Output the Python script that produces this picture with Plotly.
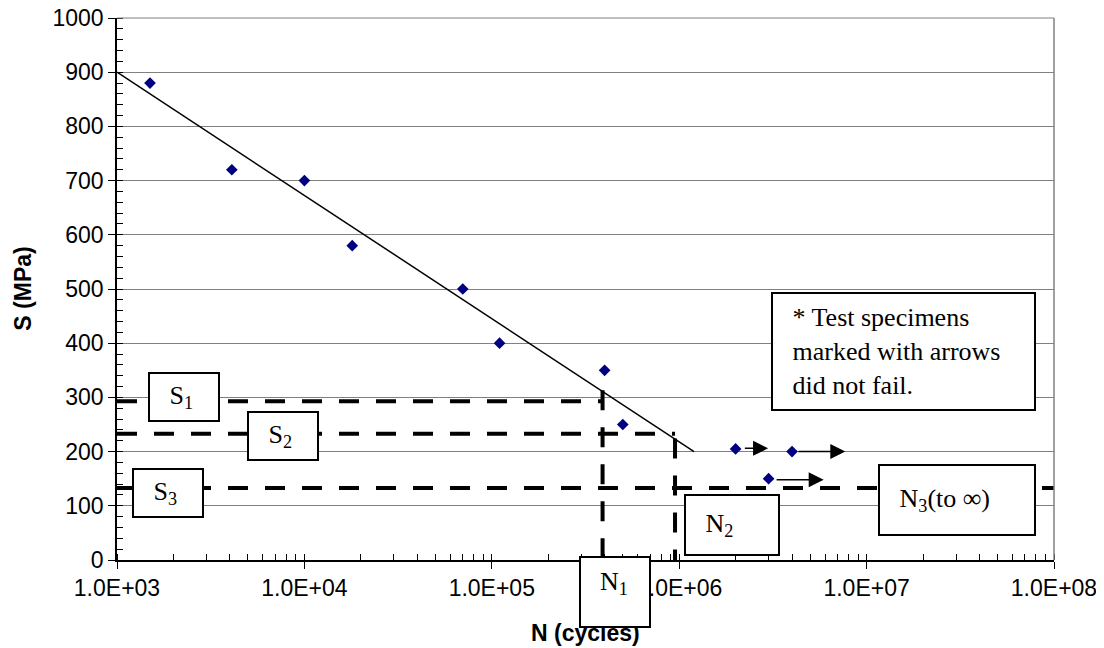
import numpy as np
import plotly.graph_objects as go

# ---- data ----
N_test = [1.5e3, 4.1e3, 1.0e4, 1.8e4, 7.0e4, 1.1e5, 4.0e5, 5.0e5, 2.0e6, 3.0e6, 4.0e6]
S_test = [880, 720, 700, 580, 500, 400, 350, 250, 205, 150, 200]

N_fit = [1.0e3, 1.2e6]
S_fit = [900, 200]

# run-outs (did not fail): start N, arrow tip N, stress
runout_tail = [2.2e6, 3.25e6, 4.25e6]
runout_head = [2.98e6, 5.9e6, 7.7e6]
runout_S = [206, 148, 200]

S_levels = [293, 233, 133]          # S1, S2, S3
N_levels = [3.9e5, 9.5e5]           # N1, N2
S_at_N = [313, 224]                 # S on fit line at N1, N2
N_min, N_max = 1.0e3, 1.0e8

xtick_vals = [1e3, 1e4, 1e5, 1e6, 1e7, 1e8]
xtick_text = ["1.0E+03", "1.0E+04", "1.0E+05", "1.0E+06", "1.0E+07", "1.0E+08"]

SANS = "Liberation Sans, Arial, sans-serif"
SERIF = "Liberation Serif, Times New Roman, serif"

fig = go.Figure()

dash = "20px,17px"
dl = dict(color="black", width=4, dash=dash)
# horizontal S1, S2 to N1, N2; S3 across
fig.add_trace(go.Scatter(x=[N_min, N_levels[0]], y=[S_levels[0]] * 2, mode="lines", line=dl, hoverinfo="skip"))
fig.add_trace(go.Scatter(x=[N_min, N_levels[1]], y=[S_levels[1]] * 2, mode="lines", line=dl, hoverinfo="skip"))
fig.add_trace(go.Scatter(x=[N_min, N_max], y=[S_levels[2]] * 2, mode="lines", line=dl, hoverinfo="skip"))
# vertical N1, N2
fig.add_trace(go.Scatter(x=[N_levels[0]] * 2, y=[S_at_N[0], 0], mode="lines", line=dl, hoverinfo="skip"))
fig.add_trace(go.Scatter(x=[N_levels[1]] * 2, y=[S_at_N[1], 0], mode="lines", line=dl, hoverinfo="skip"))

# fit line
fig.add_trace(go.Scatter(x=N_fit, y=S_fit, mode="lines", line=dict(color="black", width=1.5)))
# test points
fig.add_trace(go.Scatter(x=N_test, y=S_test, mode="markers",
                         marker=dict(symbol="diamond", size=9, color="#000080")))

annotations = []
# run-out arrows
for t, h, s in zip(runout_tail, runout_head, runout_S):
    annotations.append(dict(x=np.log10(h), y=s, ax=np.log10(t), ay=s, xref="x", yref="y",
                            axref="x", ayref="y", showarrow=True, arrowhead=2, arrowsize=2,
                            arrowwidth=1.5, arrowcolor="black", standoff=0, startstandoff=0, text=""))

pad = "&nbsp;&nbsp;&nbsp;"


def box(text, cx, cy, w, h, valign="middle", ref="data"):
    d = dict(text=text, x=cx, y=cy, xref="x", yref="y", showarrow=False,
             xanchor="center", yanchor="middle",
             width=w - 4, height=h - 4, align="left", valign=valign,
             bordercolor="black", borderwidth=2, borderpad=0, bgcolor="white",
             font=dict(family=SERIF, size=26, color="black"))
    if ref == "paper":
        d.update(xref="paper", yref="paper")
    return d


annotations.append(box(pad + "S<sub>1</sub>", 3.356, 300, 72, 50))
annotations.append(box(pad + "S<sub>2</sub>", 3.885, 229.7, 72, 50))
annotations.append(box(pad + "S<sub>3</sub>", 3.271, 124.5, 72, 50))
annotations.append(box(pad + "N<sub>2</sub>", 6.282, 65.5, 96, 62))
annotations.append(box(pad + "N<sub>3</sub>(to ∞)", 7.483, 111.6, 158, 72))
annotations.append(box(pad + "* Test specimens<br>" + pad + "marked with arrows<br>" + pad + "did not fail.",
                       7.197, 383.8, 265, 119))

# axis titles
annotations.append(dict(text="<b>S (MPa)</b>", x=-0.1007, y=0.5, xref="paper", yref="paper",
                        textangle=-90, showarrow=False, xanchor="center", yanchor="middle",
                        font=dict(family=SANS, size=23, color="black")))
annotations.append(dict(text="<b>N (cycles)</b>", x=0.5, y=-0.135, xref="paper", yref="paper",
                        showarrow=False, xanchor="center", yanchor="middle",
                        font=dict(family=SANS, size=23, color="black")))
# N1 box (below the axis) and its label
annotations.append(box("&nbsp;", 0.5313, -0.0582, 72, 72, ref="paper"))
annotations.append(dict(text="N<sub>1</sub>", x=0.5132, y=-0.043, xref="paper", yref="paper",
                        showarrow=False, xanchor="left", yanchor="middle",
                        font=dict(family=SERIF, size=26, color="black")))

fig.update_layout(
    template="none",
    width=1096, height=640,
    margin=dict(l=109, r=50, t=10, b=88, autoexpand=False),
    paper_bgcolor="white", plot_bgcolor="white",
    showlegend=False,
    annotations=annotations,
    shapes=[dict(type="line", xref="paper", yref="paper", x0=1, x1=1, y0=0, y1=1,
                 line=dict(color="#808080", width=1.5)),
            dict(type="line", xref="paper", yref="paper", x0=0, x1=1, y0=1, y1=1,
                 line=dict(color="#808080", width=1))],
)
fig.update_xaxes(type="log", range=[3, 8], showgrid=False, zeroline=False, automargin=False,
                 showline=True, linecolor="black", linewidth=1.5, ticklabeloverflow="allow",
                 tickvals=xtick_vals, ticktext=xtick_text, ticks="outside", ticklen=7,
                 tickcolor="black", tickwidth=1,
                 tickfont=dict(family=SANS, size=23, color="black"),
                 minor=dict(ticks="inside", ticklen=6, dtick="D1", tickcolor="black", showgrid=False))
fig.update_yaxes(range=[0, 1000], tick0=0, dtick=100, showgrid=True, gridcolor="#808080", gridwidth=1,
                 zeroline=False, showline=True, linecolor="black", linewidth=1.5, automargin=False,
                 ticklabeloverflow="allow",
                 ticks="outside", ticklen=7, tickcolor="black", tickwidth=1,
                 tickfont=dict(family=SANS, size=23, color="black"),
                 minor=dict(ticks="inside", ticklen=6, dtick=20, tickcolor="black", showgrid=False))

fig.write_html("out.html")
